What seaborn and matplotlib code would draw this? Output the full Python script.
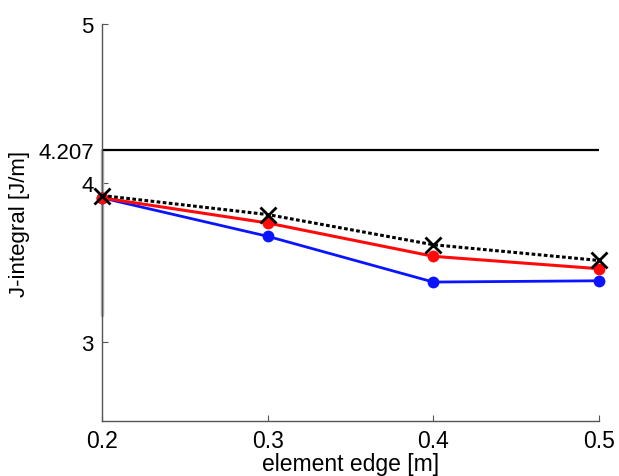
import matplotlib
matplotlib.use("Agg")
import matplotlib.pyplot as plt
import seaborn as sns
import pandas as pd

edge = [0.2, 0.3, 0.4, 0.5]
j_blue = [3.905, 3.663, 3.375, 3.383]
j_red = [3.905, 3.747, 3.537, 3.459]
j_black = [3.92, 3.80, 3.61, 3.511]
j_ref = 4.207
gray_seg = [3.17, 4.207]
xticks = [0.2, 0.3, 0.4, 0.5]
yticks = [3, 4, 4.207, 5]
yticklabels = ["3", "4", "4.207", "5"]

sns.set_theme(style="white")
plt.rcParams['font.family'] = ['Liberation Sans', 'DejaVu Sans']

fig = plt.figure(figsize=(6.19, 4.77), dpi=100)
ax = fig.add_axes([102/619, 1-422/477, (599-102)/619, (422-25)/477])

ax.plot([edge[0], edge[0]], gray_seg, color="#b8b8b8", lw=2.5, zorder=1, clip_on=False)
ax.plot([edge[0], edge[-1]], [j_ref, j_ref], color="black", lw=1.6, zorder=2)

df = pd.DataFrame({"edge": edge, "blue": j_blue, "red": j_red, "black": j_black})
sns.lineplot(data=df, x="edge", y="blue", ax=ax, color="#0a14ff", lw=2,
             marker="o", markersize=8.5, markeredgewidth=0, zorder=3, clip_on=False)
sns.lineplot(data=df, x="edge", y="red", ax=ax, color="#ff0a0a", lw=2.2,
             marker="o", markersize=8.5, markeredgewidth=0, zorder=4, clip_on=False)
sns.lineplot(data=df, x="edge", y="black", ax=ax, color="black", lw=2.2,
             linestyle=(0, (1.2, 0.8)), marker="x", markersize=12, markeredgewidth=2,
             markeredgecolor="black", markerfacecolor="black",
             zorder=5, clip_on=False)

ax.set_xlim(0.2, 0.5)
ax.set_ylim(2.5, 5)
ax.set_xticks(xticks)
ax.set_xticklabels([f"{t:.1f}" for t in xticks])
ax.set_yticks(yticks)
ax.set_yticklabels(yticklabels)
ax.tick_params(direction="in", length=4, width=0.8, color="#555555",
               pad=6, left=True, bottom=True, labelcolor="black")
ax.tick_params(axis="x", labelsize=16.5)
ax.tick_params(axis="y", labelsize=16)
for s in ["top", "right"]:
    ax.spines[s].set_visible(False)
for s in ["left", "bottom"]:
    ax.spines[s].set_color("#555555")
    ax.spines[s].set_linewidth(1.0)

ax.set_xlabel("element edge [m]", fontsize=16.5, labelpad=0, color="black")
ax.set_ylabel("J-integral [J/m]", fontsize=16, labelpad=6, color="black")

fig.savefig("out.png", dpi=100)
